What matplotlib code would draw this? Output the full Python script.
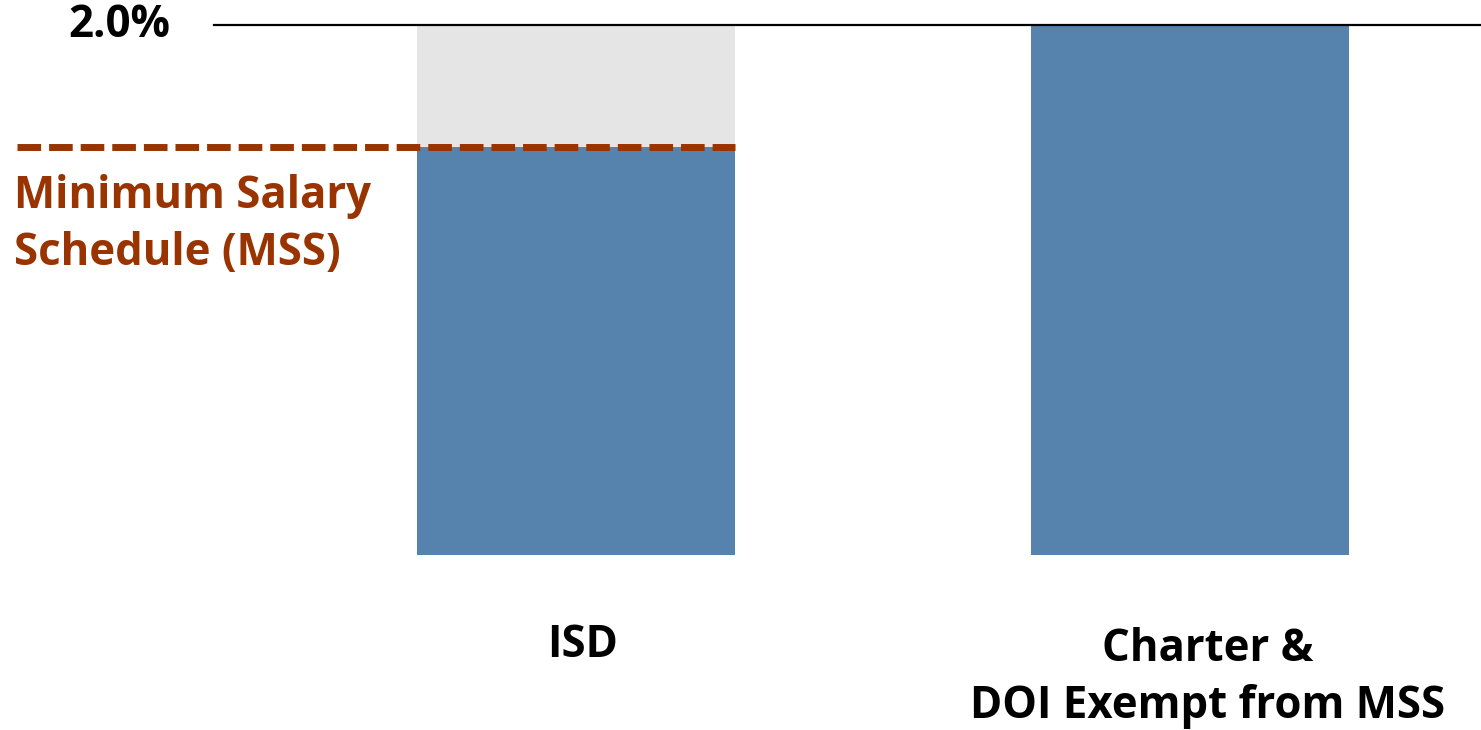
import matplotlib
matplotlib.use("Agg")
import matplotlib.pyplot as plt
import matplotlib.transforms as mtransforms

# Data
categories = ["ISD", "Charter &\nDOI Exempt from MSS"]
blue_values = [1.54, 2.0]
top_value = 2.0
mss_value = 1.54

blue = "#5683AE"
gray = "#E5E5E5"
rust = "#993300"

plt.rcParams['font.family'] = ['Open Sans', 'DejaVu Sans']
fs = 31.5

fig = plt.figure(figsize=(14.81, 7.30), dpi=100)
ax = fig.add_axes([0, 0, 1, 1])

x = list(range(len(categories)))
width = 0.518

# gray headroom above the blue portion, up to the 2.0% line
ax.bar(x, [top_value - v for v in blue_values], width, bottom=blue_values, color=gray, zorder=1)
ax.bar(x, blue_values, width, color=blue, zorder=2)

blend = mtransforms.blended_transform_factory(ax.transAxes, ax.transData)

# top reference line
ax.axhline(top_value, xmin=214 / 1481, xmax=1, color="black", linewidth=1.6, zorder=3)
ax.text(170 / 1481, top_value, "2.0%", transform=blend,
        ha="right", va="center", fontsize=fs, fontweight="bold")

# MSS dashed line
ax.axhline(mss_value, xmin=17 / 1481, xmax=735 / 1481, color=rust, linewidth=5,
           dashes=(3.4, 1.15), zorder=4)
ax.text(14 / 1481, 1.245, "Minimum Salary\nSchedule (MSS)", transform=blend,
        ha="left", va="center", fontsize=fs, fontweight="bold", color=rust, linespacing=1.34)

# category labels
ax.text(x[0] + 0.011, -0.34, categories[0], ha="center", va="center", fontsize=fs, fontweight="bold")
ax.text(x[1] + 0.029, -0.465, categories[1], ha="center", va="center", fontsize=fs, fontweight="bold",
        linespacing=1.34)

ax.set_xlim(-576 / 614, (1481 - 576) / 614)
ax.set_ylim(-175 / 265, 2 + 25 / 265)
ax.axis("off")

plt.savefig("out.png", dpi=100)
